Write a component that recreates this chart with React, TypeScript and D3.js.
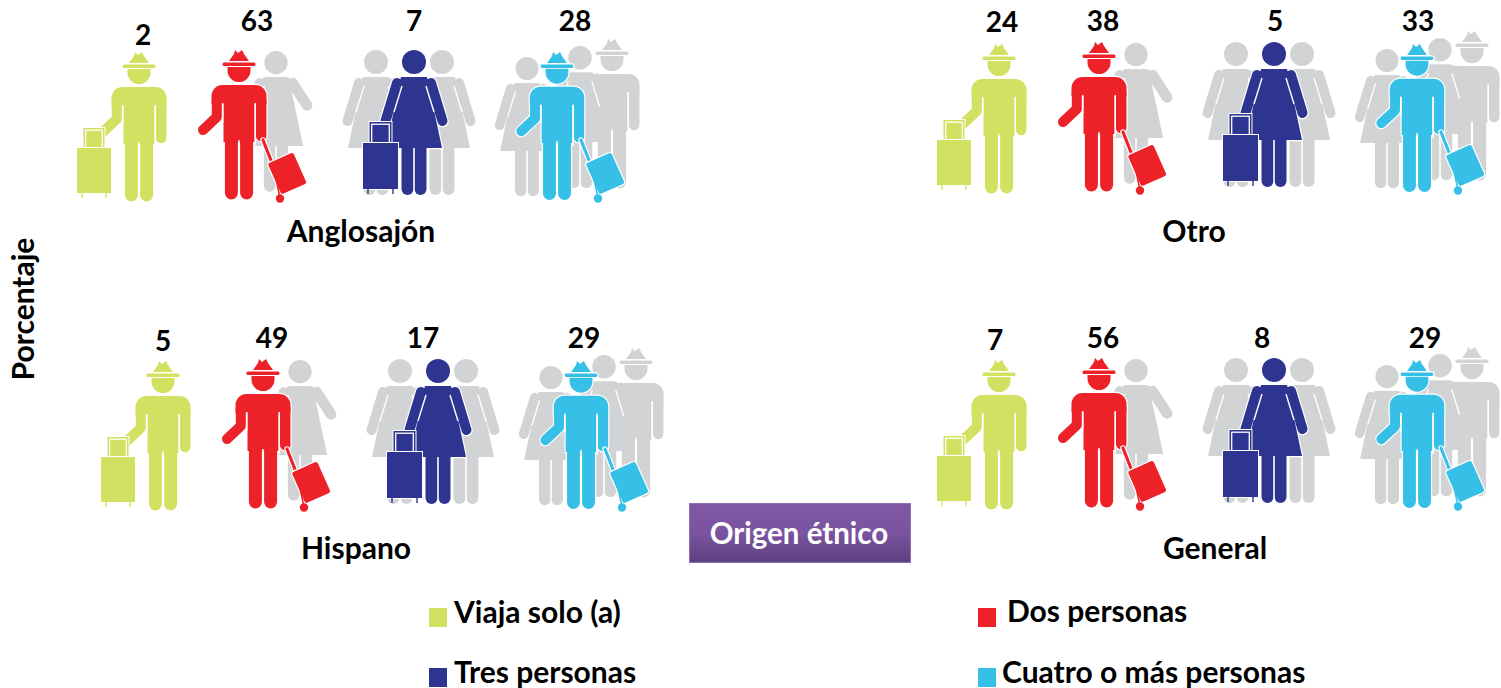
import React from "react";
import * as d3 from "d3";

// ---- data ----
const panels = ["Anglosajón", "Otro", "Hispano", "General"];
const modes = ["Viaja solo (a)", "Dos personas", "Tres personas", "Cuatro o más personas"];
const anglosajon = [2, 63, 7, 28];
const otro = [24, 38, 5, 33];
const hispano = [5, 49, 17, 29];
const general = [7, 56, 8, 29];
const seriesByPanel = [anglosajon, otro, hispano, general];
const palette = ["#d3e162", "#ed2228", "#2e3591", "#36c0e8"];
const axisTitle = "Porcentaje";
const boxTitle = "Origen étnico";

// ---- layout ----
const W = 1501, H = 688;
const GREY = "#d1d3d4";
const FONT = "Lato, Carlito, 'Open Sans', sans-serif";
const color = d3.scaleOrdinal<string, string>().domain(modes).range(palette);
const panelOffset = [[0, 0], [860, -8], [24, 309], [860, 308]];
const panelLabel = [[361, 242], [1194, 242], [356, 559], [1215, 559]];
const valueX = [[143, 257, 414, 575], [1002, 1103, 1275, 1418], [163, 272, 423, 584], [995, 1103, 1262, 1425]];
const valueY = [[45, 31, 31, 31], [32, 31, 31, 31], [351, 348, 348, 348], [350, 348, 348, 348]];

type Shape = { d: string; sw?: number; gap?: boolean };

function poly(pts: number[][], close = true) {
  const p = d3.path();
  pts.forEach(([x, y], i) => (i ? p.lineTo(x, y) : p.moveTo(x, y)));
  if (close) p.closePath();
  return p.toString();
}
function rrect(x: number, y: number, w: number, h: number, r = 0) {
  const p = d3.path();
  p.moveTo(x + r, y);
  p.arcTo(x + w, y, x + w, y + h, r);
  p.arcTo(x + w, y + h, x, y + h, r);
  p.arcTo(x, y + h, x, y, r);
  p.arcTo(x, y, x + w, y, r);
  p.closePath();
  return p.toString();
}
function disc(x: number, y: number, r: number) {
  const p = d3.path();
  p.arc(x, y, r, 0, Math.PI * 2);
  p.closePath();
  return p.toString();
}

function manShapes(): Shape[] {
  const head = d3.path();
  head.moveTo(-11.5, 17);
  head.lineTo(11.5, 17);
  head.lineTo(11.5, 20.5);
  head.arc(0, 20.5, 11.5, 0, Math.PI);
  head.closePath();
  const shoulders = d3.path();
  shoulders.moveTo(-27.5, 54);
  shoulders.lineTo(-27.5, 46);
  shoulders.arcTo(-27.5, 35, -16, 35, 11);
  shoulders.lineTo(16, 35);
  shoulders.arcTo(27.5, 35, 27.5, 46, 11);
  shoulders.lineTo(27.5, 54);
  shoulders.closePath();
  return [
    { d: poly([[-10, 11], [-5, 4], [-4, 0], [-1, 3], [3, 0], [5, 4], [10, 11]]) },
    { d: rrect(-16.5, 12.5, 33, 3.6, 1.5) },
    { d: head.toString() },
    { d: shoulders.toString() },
    { d: rrect(-15.5, 50, 31, 42) },
    { d: poly([[22.2, 50], [22.2, 86]], false), sw: 10.5 },
    { d: poly([[-22.2, 50], [-22.2, 67], [-36, 80]], false), sw: 10 },
    { d: poly([[-7.6, 85], [-7.6, 143]], false), sw: 13 },
    { d: poly([[7.6, 85], [7.6, 143]], false), sw: 13 },
  ];
}

function womanShapes(raised: boolean): Shape[] {
  const base: Shape[] = [
    { d: disc(0, 12, 12) },
    { d: rrect(-15, 27, 30, 12, 6) },
    { d: poly([[-13, 27], [13, 27], [28, 98], [-28, 98]]) },
    { d: poly([[-17, 33], [-28.5, 71]], false), sw: 10 },
    { d: poly(raised ? [[17, 33], [32, 56]] : [[17, 33], [28.5, 71]], false), sw: raised ? 11 : 10 },
    { d: poly([[-6.5, 90], [-6.5, 139]], false), sw: 12 },
    { d: poly([[6.5, 90], [6.5, 139]], false), sw: 12 },
    { d: poly([[-12, 36], [-20, 62]], false), sw: 1.4, gap: true },
  ];
  if (!raised) base.push({ d: poly([[12, 36], [20, 62]], false), sw: 1.4, gap: true });
  return base;
}

const Figure = ({ shapes, fill, x, y, k = 1, halo = false }: { shapes: Shape[]; fill: string; x: number; y: number; k?: number; halo?: boolean }) => {
  const solid = shapes.filter((s) => !s.gap);
  const gaps = shapes.filter((s) => s.gap);
  const props = (s: Shape, c: string, extra: number) => ({
    d: s.d,
    fill: s.sw ? "none" : c,
    stroke: s.sw || extra ? c : "none",
    strokeWidth: (s.sw || 0) + extra,
    strokeLinecap: "round" as const,
    strokeLinejoin: "round" as const,
  });
  return (
    <g transform={`translate(${x},${y}) scale(${k})`}>
      {halo && solid.map((s, i) => <path key={`h${i}`} {...props(s, "#fff", 2.4)} />)}
      {solid.map((s, i) => <path key={i} {...props(s, fill, 0)} />)}
      {gaps.map((s, i) => <path key={`g${i}`} d={s.d} fill="none" stroke="#fff" strokeWidth={s.sw} />)}
      {/* seam between the legs and along the arms */}
      {!gaps.length && (
        <>
          <path d={poly([[0, 90], [0, 150]], false)} stroke="#fff" strokeWidth={1.4} fill="none" />
          <path d={poly([[16.3, 53], [16.3, 95]], false)} stroke="#fff" strokeWidth={1.4} fill="none" />
          <path d={poly([[-16.3, 53], [-16.3, 72]], false)} stroke="#fff" strokeWidth={1.4} fill="none" />
        </>
      )}
      {gaps.length > 0 && <path d={poly([[0, 98], [0, 146]], false)} stroke="#fff" strokeWidth={1.2} fill="none" />}
    </g>
  );
};

const UprightCase = ({ x, y, w, h, hw, hh, fill }: { x: number; y: number; w: number; h: number; hw: number; hh: number; fill: string }) => {
  const hx = x + (w - hw) / 2;
  const hy = y - hh;
  return (
    <g>
      <rect x={hx - 1} y={hy - 1} width={hw + 2} height={hh + 2} fill="#fff" />
      <rect x={hx} y={hy} width={hw} height={hh} fill={fill} />
      <rect x={hx + 2.2} y={hy + 2.2} width={hw - 4.4} height={hh - 2.2} fill="none" stroke="#fff" strokeWidth={1.3} />
      <rect x={x - 1} y={y - 1} width={w + 2} height={h + 2} fill="#fff" />
      <rect x={x} y={y} width={w} height={h} fill={fill} />
      <path d={poly([[x + 5, y + h], [x + 5, y + h + 5]], false)} stroke={fill} strokeWidth={1.4} />
      <path d={poly([[x + w - 5, y + h], [x + w - 5, y + h + 5]], false)} stroke={fill} strokeWidth={1.4} />
    </g>
  );
};

const TiltedCase = ({ x, y, fill }: { x: number; y: number; fill: string }) => (
  <g transform={`translate(${x},${y})`}>
    <path d={poly([[24, 90], [35, 118]], false)} stroke="#fff" strokeWidth={5.5} strokeLinecap="round" fill="none" />
    <path d={poly([[24, 90], [35, 118]], false)} stroke={fill} strokeWidth={3.2} strokeLinecap="round" fill="none" />
    <g transform="translate(48,123) rotate(-24)">
      <rect x={-14.5} y={-17} width={29} height={35} rx={3} fill={fill} stroke="#fff" strokeWidth={1.2} />
    </g>
    <circle cx={41} cy={148.5} r={4.2} fill={fill} />
    <path d={poly([[34, 115], [41, 148]], false)} stroke={fill} strokeWidth={1.5} />
  </g>
);

const Group = ({ dx, dy }: { dx: number; dy: number }) => {
  const man = manShapes();
  const woman = womanShapes(false);
  const wave = womanShapes(true);
  return (
    <g transform={`translate(${dx},${dy})`}>
      {/* solo */}
      <Figure shapes={man} fill={color(modes[0])} x={139} y={52} />
      <UprightCase x={77} y={148} w={34} h={45} hw={21} hh={20} fill={color(modes[0])} />

      {/* two */}
      <Figure shapes={wave} fill={GREY} x={276} y={51} k={0.97} />
      <Figure shapes={man} fill={color(modes[1])} x={239} y={50} halo />
      <TiltedCase x={239} y={50} fill={color(modes[1])} />

      {/* three */}
      <Figure shapes={woman} fill={GREY} x={376} y={50} />
      <Figure shapes={woman} fill={GREY} x={442} y={50} />
      <Figure shapes={woman} fill={color(modes[2])} x={414} y={50} halo />
      <UprightCase x={363} y={143} w={35} h={46} hw={22} hh={21} fill={color(modes[2])} />

      {/* four or more */}
      <Figure shapes={man} fill={GREY} x={612} y={39} />
      <Figure shapes={woman} fill={GREY} x={580} y={46} k={0.98} />
      <Figure shapes={woman} fill={GREY} x={527} y={57} k={0.96} />
      <Figure shapes={man} fill={color(modes[3])} x={557} y={52} k={0.99} halo />
      <TiltedCase x={557} y={50} fill={color(modes[3])} />
    </g>
  );
};

const legendPos = [
  { sx: 429, sy: 608, tx: 454, ty: 623 },
  { sx: 978, sy: 608, tx: 1007, ty: 622 },
  { sx: 429, sy: 668, tx: 454, ty: 683 },
  { sx: 978, sy: 668, tx: 1002, ty: 683 },
];

export default function App() {
  return (
    <svg width={W} height={H} viewBox={`0 0 ${W} ${H}`} style={{ position: "absolute", left: 0, top: 0, display: "block" }} fontFamily={FONT} fontWeight={700}>
      <defs>
        <linearGradient id="box" x1="0" y1="0" x2="0" y2="1">
          <stop offset="0" stopColor="#8058a6" />
          <stop offset="0.5" stopColor="#7a54a0" />
          <stop offset="1" stopColor="#5e4080" />
        </linearGradient>
      </defs>
      <rect width={W} height={H} fill="#fff" />
      {panels.map((name, p) => (
        <g key={name}>
          <Group dx={panelOffset[p][0]} dy={panelOffset[p][1]} />
          {seriesByPanel[p].map((v, i) => (
            <text key={i} x={valueX[p][i]} y={valueY[p][i]} textAnchor="middle" fontSize={28} fill="#000">{v}</text>
          ))}
          <text x={panelLabel[p][0]} y={panelLabel[p][1]} textAnchor="middle" fontSize={30} fill="#000">{name}</text>
        </g>
      ))}
      <text transform="translate(34,309) rotate(-90)" textAnchor="middle" fontSize={30} fill="#000">{axisTitle}</text>
      <rect x={689.5} y={503.5} width={221} height={59} fill="url(#box)" stroke="#8f72b5" strokeWidth={1} />
      <text x={799} y={544} textAnchor="middle" fontSize={29.5} fill="#fff">{boxTitle}</text>
      {modes.map((m, i) => (
        <g key={m}>
          <rect x={legendPos[i].sx} y={legendPos[i].sy} width={18} height={19} fill={color(m)} />
          <text x={legendPos[i].tx} y={legendPos[i].ty} fontSize={30} fill="#000">{m}</text>
        </g>
      ))}
    </svg>
  );
}
